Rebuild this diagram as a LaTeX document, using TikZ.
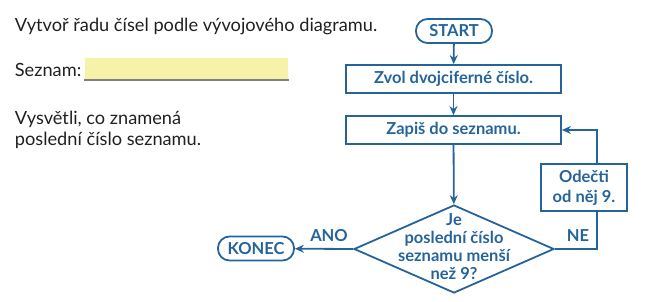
\documentclass[tikz,border=0pt]{standalone}
\usepackage{fontspec}
\setmainfont{Lato}
\usetikzlibrary{shapes.geometric,arrows.meta}
\definecolor{flowblue}{RGB}{37,100,155}
\definecolor{fieldyellow}{RGB}{246,242,168}
\definecolor{textgray}{RGB}{35,31,32}
\begin{document}
\begin{tikzpicture}
[x=1pt,y=-1pt,line width=1.8pt,
flowtext/.style={font=\fontsize{16.5}{18}\selectfont\bfseries, text=flowblue, align=center},
tasktext/.style={font=\fontsize{18.2}{21}\selectfont, text=textgray, anchor=base west, inner sep=0pt},
terminal/.style={flowtext, draw=flowblue, rectangle, rounded corners=11.5pt, minimum width=76pt, minimum height=24pt, inner sep=0pt},
box/.style={flowtext, draw=flowblue, rectangle, minimum width=215pt, minimum height=28pt, inner sep=0pt},
decision/.style={draw=flowblue, diamond, minimum width=200pt, minimum height=88pt, inner sep=0pt},
link/.style={draw=flowblue, -{Stealth[length=9pt,width=8pt]}}]
\useasboundingbox (0,0) rectangle (651,302);
% task text
\node[tasktext] (zadani) at (14,32) {Vytvoř řadu čísel podle vývojového diagramu.};
\node[tasktext] (seznam) at (14,77) {Seznam:};
\node[fill=fieldyellow, minimum width=203pt, minimum height=21pt, inner sep=0pt] (pole) at (186.5,68.5) {};
\draw[gray, line width=2pt] (pole.south west) -- (pole.south east);
\node[tasktext] (vysvetli1) at (14,125) {Vysvětli, co znamená};
\node[tasktext] (vysvetli2) at (14,146) {poslední číslo seznamu.};
% flowchart
\node[terminal] (start) at (454,31) {START};
\node[box] (zvol) at (453.5,79) {Zvol dvojciferné číslo.};
\node[box] (zapis) at (453.5,130) {Zapiš do seznamu.};
\node[decision] (otazka) at (454,249) {};
\node[flowtext, inner sep=0pt] (otazkatext) at (454,247) {Je\\poslední číslo\\seznamu menší\\než 9?};
\node[flowtext, draw=flowblue, rectangle, minimum width=86pt, minimum height=47pt, inner sep=0pt, font=\fontsize{16.5}{20}\selectfont\bfseries] (odecti) at (584,187.5) {Odečti\\od něj 9.};
\node[terminal] (konec) at (256,248.5) {KONEC};
\coordinate (ne) at (597,249);
\draw[link] (start) to (zvol);
\draw[link] (zvol) to (zapis);
\draw[link] (zapis) to (otazka);
\draw[link] (otazka.west) to (konec);
\draw[draw=flowblue] (otazka.east) to (ne) to (ne |- odecti.south);
\draw[link] (ne |- odecti.north) |- (zapis.east);
\node[flowtext] (ano) at (329,236) {ANO};
\node[flowtext] (nelabel) at (578,236) {NE};
\end{tikzpicture}
\end{document}
